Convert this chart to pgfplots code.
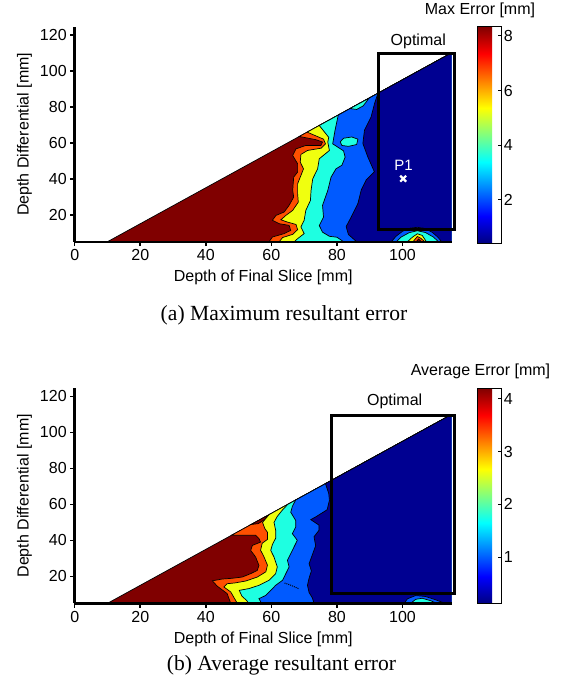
\documentclass[border=0pt]{standalone}
\usepackage{fontspec}
\setmainfont{Liberation Sans}
\newfontfamily\capfont{Liberation Serif}
\usepackage{pgfplots}
\pgfplotsset{compat=1.18}

\definecolor{cdb}{RGB}{0,0,145}
\definecolor{clb}{RGB}{0,90,255}
\definecolor{ccy}{RGB}{30,255,225}
\definecolor{cye}{RGB}{240,255,15}
\definecolor{cor}{RGB}{255,80,0}
\definecolor{cdr}{RGB}{128,0,0}

\newcommand\axfont{\fontsize{16}{19}\selectfont}

\pgfplotsset{
  errpanel/.style={
    scale only axis, width=377pt, height=215pt,
    xmin=0, xmax=115, ymin=5, ymax=124.5,
    axis x line*=bottom, axis y line*=left,
    axis line style={line width=2.4pt, black},
    xtick={0,20,...,100}, ytick={20,40,...,120},
    tick align=outside, major tick length=4.5pt,
    every tick/.style={black, line width=1.6pt},
    tick label style={font=\axfont},
    /pgf/number format/assume math mode=true,
    xlabel={Depth of Final Slice [mm]},
    ylabel={Depth Differential [mm]},
    every axis x label/.style={at={(axis description cs:0.5,0)}, anchor=center, yshift=-36pt, font=\axfont},
    every axis y label/.style={at={(axis description cs:-0.133,0.5)}, anchor=center, rotate=90, font=\axfont},
    clip=false, axis on top,
    colormap/jet, colorbar,
  },
  cbar/.style={
    at={(parent axis.north east)}, anchor=north west, xshift=17.6pt,
    scale only axis, width=23.4pt,
    ytick pos=right, yticklabel pos=right,
    tick align=inside, major tick length=3.5pt,
    every tick/.style={black, line width=1pt},
    axis line style={line width=1.2pt, black},
    tick label style={font=\axfont},
    yticklabel style={xshift=-1pt},
    /pgf/number format/assume math mode=true,
  },
  lvl/.style={fill=#1, draw=black, line width=0.7pt, mark=none},
}

\begin{document}
\begin{tikzpicture}
\path[use as bounding box] (0,0) rectangle (564pt,-681pt);

% ---------------- (a) maximum error ----------------
\begin{axis}[errpanel,
  at={(74.7pt,-241.7pt)}, anchor=south west,
  point meta min=0.41, point meta max=8.34,
  colorbar style={cbar, height=216.6pt, ytick={2,4,6,8}},
]
\addplot[lvl=cdr] coordinates {(115,5) (10,5) (115,110)};
\addplot[lvl=cor] coordinates {(115,5) (59.3,5) (60.3,7.6) (63.9,9.5) (65.9,11.3) (65.4,14.1) (62.4,15.0) (60.3,16.9) (61.4,19.6) (63.9,21.5) (65.4,25.2) (66.8,29.8) (66.5,33.5) (66.8,40.9) (68.0,43.7) (68.0,48.3) (66.5,52.9) (67.5,56.6) (70.5,58.5) (75.1,58.5) (75.6,60.4) (73.6,61.7) (68.5,63.5) (115,110)};
\addplot[lvl=cye] coordinates {(115,5) (62.4,5) (63.4,7.3) (66.5,9.1) (68.0,11.7) (67.5,14.6) (64.9,15.9) (62.9,17.2) (64.4,19.6) (66.5,22.4) (68.2,27.0) (68.0,31.7) (68.0,37.2) (68.8,40.9) (69.8,45.5) (68.8,49.2) (69.0,53.5) (71.0,55.7) (75.2,57.0) (76.5,59.4) (75.9,62.0) (70.9,65.9) (115,110)};
\addplot[lvl=ccy] coordinates {(115,5) (67.0,5) (68.0,6.7) (70.0,9.5) (69.0,13.2) (70.0,16.9) (70.5,22.4) (71.9,27.9) (72.1,33.5) (72.6,39.9) (74.1,45.5) (74.6,51.1) (77.7,55.7) (77.2,60.4) (77.5,63.0) (74.6,69.6) (115,110)};
\addplot[lvl=clb] coordinates {(115,5) (82,5) (80,7.5) (77.7,8) (75.6,10.3) (74.6,14.0) (75.9,18.7) (75.6,25.2) (77.2,33.5) (78.2,40.9) (79.7,45.5) (81.5,47.5) (82.5,52) (82,55.5) (78.7,59.4) (79.4,66.8) (80.4,75.4) (115,110)};
\addplot[lvl=cdb] coordinates {(115,5) (86,5) (83.5,9) (82.8,13.4) (84.4,18.9) (86.4,26.3) (87.4,33.7) (88.9,39.3) (91.4,43.9) (89.4,52.2) (87.9,59.6) (88.4,67) (90.4,74.3) (91.5,82) (92.5,87.5) (115,110)};
% islands
\addplot[lvl=ccy] coordinates {(81,60.5) (82,62.5) (84.5,63.2) (86.4,62) (86,59) (83.5,58) (81.5,58.5)} -- cycle;
\addplot[lvl=ccy] coordinates {(84,79) (89.8,84.8) (88,80.5) (86,78.5)} -- cycle;
% bump at the bottom
\addplot[lvl=clb] coordinates {(96.6,5) (98,8) (100,10.8) (102.5,12.6) (104.5,13) (106.5,12.5) (109,10.3) (110.8,7.5) (111.9,5)};
\addplot[lvl=ccy] coordinates {(98.1,5) (99.5,7.5) (102,10) (104.5,11.1) (107,10.1) (109.5,7.5) (110.9,5)};
\addplot[lvl=cye] coordinates {(101.5,5) (103,7.5) (104.5,9.4) (106,8.5) (107.3,5)};
\addplot[lvl=cor] coordinates {(103.2,5) (104.5,7.9) (105.5,7) (106.8,5)};
\addplot[lvl=cdr] coordinates {(104.2,5) (104.9,6.5) (105.7,5)};

\draw[line width=3pt] (axis cs:92.7,12) rectangle (axis cs:115.9,109.4);
\node[font=\axfont] at (axis cs:104.8,116.4) {Optimal};
\addplot[only marks, mark=x, mark size=4.2pt, white, line width=2.2pt] coordinates {(100.2,40)};
\node[white, font=\fontsize{15}{17}\selectfont] at (axis cs:100.3,47.4) {P1};
\end{axis}
\node[font=\axfont] at (480pt,-10pt) {Max Error [mm]};
\node[font=\capfont\fontsize{21.6}{25}\selectfont] at (284pt,-315pt) {(a) Maximum resultant error};

% ---------------- (b) average error ----------------
\begin{axis}[errpanel,
  at={(74.7pt,-603.3pt)}, anchor=south west,
  point meta min=0.12, point meta max=4.2,
  colorbar style={cbar, height=215.3pt, ytick={1,2,3,4}},
]
\addplot[lvl=cdr] coordinates {(115,5) (10,5) (115,110)};
\addplot[lvl=cor] coordinates {(115,5) (47.6,5) (46.5,10.4) (43.5,14.5) (42,17.5) (45,18.5) (48,18.9) (51.1,19.6) (53.7,21.5) (55.7,23.3) (56.2,26.1) (55.2,30.7) (53.7,34.4) (54.2,37.2) (56.7,39) (56.2,41) (55.2,42.8) (47.8,42.8) (115,110)};
\addplot[lvl=cdr] coordinates {(53.8,48.8) (58.6,53.6) (58.3,52) (56,49.3)} -- cycle;
\addplot[lvl=cye] coordinates {(115,5) (49.6,5) (47.6,11.3) (45.5,14.1) (46.5,15.9) (48.8,16.3) (52.2,17.4) (55.7,19.6) (58.3,22.5) (58.8,26.2) (57.7,31) (56.7,34.5) (57.2,38.4) (58.8,40.5) (58.8,44.5) (58,46.5) (57.3,50) (59.3,54.3) (115,110)};
\addplot[lvl=ccy] coordinates {(115,5) (53,5) (52.5,6.5) (51,9) (50.2,12.2) (53.2,13.2) (56.2,15) (59.3,17.8) (61.3,21.5) (61.8,25.2) (60.8,30.7) (59.8,34.4) (60.3,37.6) (61.3,41.2) (61.3,45.6) (60.8,50) (61.8,53.3) (63.3,56.7) (65,60) (115,110)};
\addplot[lvl=clb] coordinates {(115,5) (57,5) (56.2,7.6) (58.3,9.4) (59.8,12.2) (61.3,15) (63.4,17.8) (64.4,21.5) (65.4,25.2) (64.9,28.9) (65.9,32.6) (66.9,36.3) (67.9,40) (66.4,43.7) (67.4,47.4) (67.4,51.1) (65.9,55.6) (66.4,58.9) (67.4,62.4) (115,110)};
\addplot[lvl=cdb] coordinates {(115,5) (73,5) (72.5,8) (71.5,11) (71,15) (71.5,19) (72.2,23) (71.5,27) (72.5,32) (73.5,37) (73,42) (74.5,45.5) (74.5,48.5) (72,51.5) (73.5,53) (77,57) (77.7,62.2) (77.5,66) (76.5,71.5) (115,110)};
\addplot[black, densely dotted, line width=1pt, mark=none] coordinates {(64,16.3) (66,15) (68.5,13)};
% bump at the bottom
\addplot[lvl=clb] coordinates {(100.5,5) (101.5,7.5) (104,9.3) (107,8.8) (110,7) (113,5)};
\addplot[lvl=ccy] coordinates {(102.5,5) (104,7.2) (106,7.8) (108.5,6.5) (110.5,5)};

\draw[line width=3pt] (axis cs:78.4,10.4) rectangle (axis cs:115.8,109.4);
\node[font=\axfont] at (axis cs:97.6,117.2) {Optimal};
\end{axis}
\node[font=\axfont] at (480.5pt,-371.7pt) {Average Error [mm]};
\node[font=\capfont\fontsize{21.6}{25}\selectfont] at (281.5pt,-665pt) {(b) Average resultant error};
\end{tikzpicture}
\end{document}
